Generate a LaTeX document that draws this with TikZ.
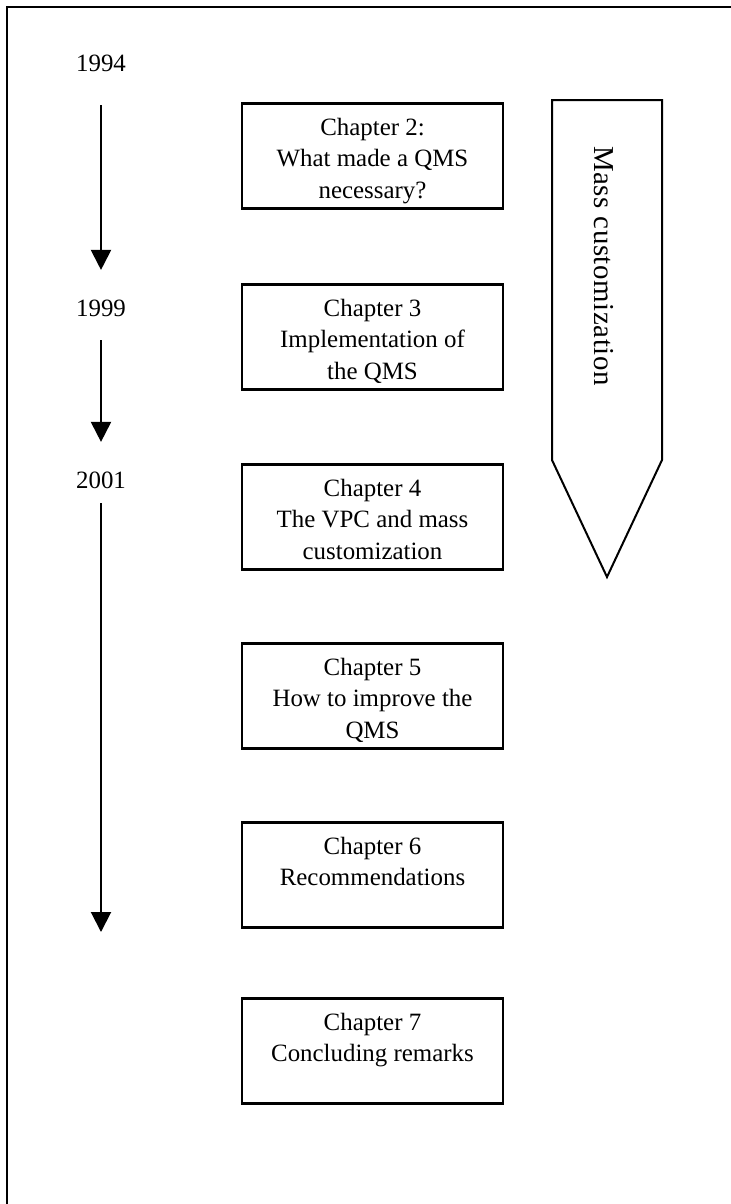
\documentclass[tikz,border=0pt]{standalone}
\usepackage{fontspec}
\setmainfont{Liberation Serif}
\newfontfamily\spacedserif[LetterSpace=2]{Liberation Serif}
\usetikzlibrary{arrows.meta}
\begin{document}
\begin{tikzpicture}[x=1bp,y=-1bp,
  every node/.style={font=\fontsize{25}{31.5}\selectfont},
  chapbox/.style={draw, line width=2.5bp, minimum width=261bp, minimum height=105bp, inner sep=0pt},
  chaptext/.style={anchor=north, align=center, inner sep=0pt},
  yearlabel/.style={inner sep=0pt},
  timearrow/.style={line width=2bp, -{Triangle[width=20bp,length=20bp]}}]
\useasboundingbox (0,0) rectangle (731,1204);

% open frame: top and left edges
\draw[line width=2bp] (731,7) -- (7,7) -- (7,1204);

% year labels and the time line
\node[yearlabel] (y1994) at (101,63) {1994};
\node[yearlabel] (y1999) at (101,308) {1999};
\node[yearlabel] (y2001) at (101,480) {2001};
\coordinate (tend) at (101,932);
\draw[timearrow, shorten <=33.5bp, shorten >=29.5bp] (y1994) -- (y1999);
\draw[timearrow, shorten <=23.5bp, shorten >=29.5bp] (y1999) -- (y2001);
\draw[timearrow, shorten <=14.5bp] (y2001) -- (tend);

% chapter boxes
\foreach \n/\top/\txt in {
  2/102/{Chapter 2:\\What made a QMS\\necessary?},
  3/283/{Chapter 3\\Implementation of\\the QMS},
  4/463/{Chapter 4\\The VPC and mass\\customization},
  5/642/{Chapter 5\\How to improve the\\QMS},
  6/821/{Chapter 6\\Recommendations},
  7/997/{Chapter 7\\Concluding remarks}} {
  \node[chapbox, anchor=north] (ch\n) at (372.5,\top) {};
  \node[chaptext] (ch\n t) at ([yshift=-16bp]ch\n.north) {\txt};
}

% pentagon arrow for mass customization
\coordinate (mc1) at (552,100);
\coordinate (mc2) at (662,100);
\coordinate (mc3) at (662,460);
\coordinate (mc4) at (607,577);
\coordinate (mc5) at (552,460);
\draw[line width=2bp, line join=miter] (mc1) -- (mc2) -- (mc3) -- (mc4) -- (mc5) -- cycle;
\node[rotate=-90, anchor=west, inner sep=0pt, font=\spacedserif\fontsize{29}{34}\selectfont] (mctext) at (604,146) {Mass customization};
\end{tikzpicture}
\end{document}
